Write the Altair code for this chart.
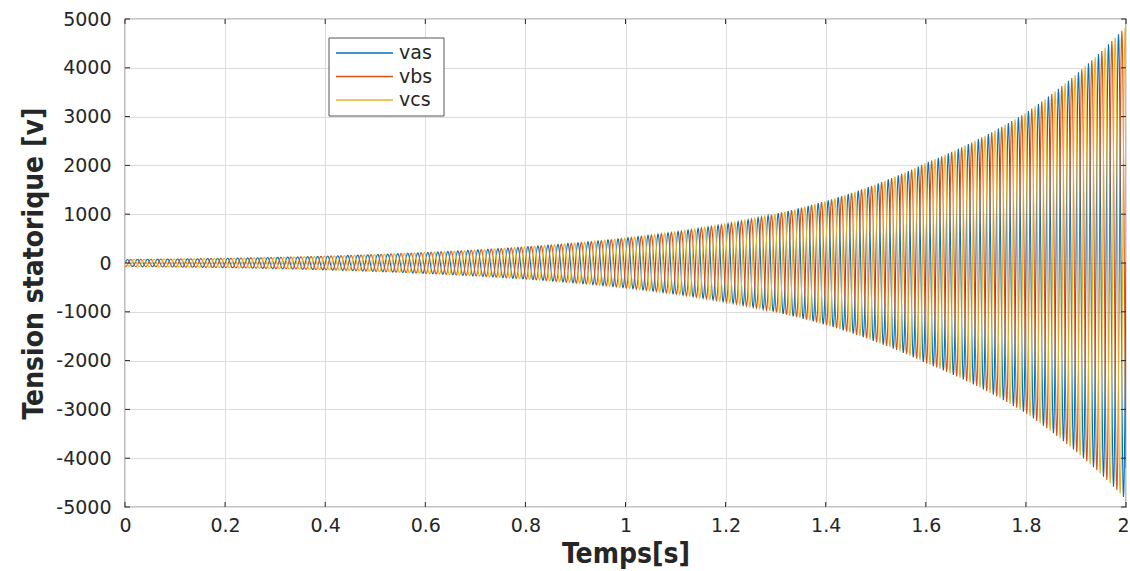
import numpy as np
import pandas as pd
import altair as alt

# Envelope (peak amplitude), in volts
env_t = [0.0, 0.2, 0.4, 0.6, 0.8, 1.0, 1.2, 1.4, 1.6, 1.8, 2.0]
env_amp = [70, 95, 140, 215, 330, 510, 800, 1270, 2050, 3080, 4850]
freq_hz = 50
series = ["vas", "vbs", "vcs"]
phase_deg = [0, -120, 120]
colors = ["#0072BD", "#D95319", "#EDB120"]

x_ticks = [0, 0.2, 0.4, 0.6, 0.8, 1, 1.2, 1.4, 1.6, 1.8, 2]
y_ticks = [-5000, -4000, -3000, -2000, -1000, 0, 1000, 2000, 3000, 4000, 5000]

t = np.linspace(0, 2, 2401)
amp = np.exp(np.interp(t, env_t, np.log(env_amp)))
frames = []
for i, (name, ph) in enumerate(zip(series, phase_deg)):
    v = amp * np.sin(2 * np.pi * freq_hz * t + np.deg2rad(ph))
    frames.append(pd.DataFrame({"t": t, "v": v, "serie": name, "ord": i}))
df = pd.concat(frames, ignore_index=True)

narrow = "Liberation Sans Narrow, DejaVu Sans Condensed, Liberation Sans, Arial"
tickfont = "DejaVu Sans"

xscale = alt.Scale(domain=[0, 2], nice=False, zero=False)
yscale = alt.Scale(domain=[-5000, 5000], nice=False, zero=False)
cscale = alt.Scale(domain=series, range=colors)

xaxis = alt.Axis(values=x_ticks, title="Temps[s]", grid=True,
                 labelExpr="'' + datum.value",
                 labelFont=tickfont, labelFontSize=19, labelColor="#262626",
                 labelPadding=9, tickSize=0, domain=False,
                 labelOffset={"expr": "datum.value == 2 ? -3 : 0"},
                 titleFont=narrow, titleFontSize=28, titleFontWeight="bold",
                 titleColor="#262626", titlePadding=5,
                 labelFlush=False)

lines = alt.Chart(df).mark_line(strokeWidth=1.1, clip=True).encode(
    x=alt.X("t:Q", scale=xscale, axis=xaxis),
    y=alt.Y("v:Q", scale=yscale,
            axis=alt.Axis(values=y_ticks, title="Tension statorique [v]", grid=True,
                          labelExpr="'' + datum.value",
                          labelFont=tickfont, labelFontSize=19, labelColor="#262626",
                          labelPadding=14, tickSize=0, domain=False,
                          titleFont=narrow, titleFontSize=28, titleFontWeight="bold",
                          titleColor="#262626", titlePadding=7, labelFlush=False)),
    color=alt.Color("serie:N", scale=cscale, legend=None),
    order=alt.Order("ord:Q"),
    detail="serie:N",
)

# inward tick marks on all four sides
xt = pd.DataFrame({"x": x_ticks})
yt = pd.DataFrame({"y": y_ticks})
tick_style = dict(color="#262626", strokeWidth=1)
xb = alt.Chart(xt).mark_rule(**tick_style).encode(
    x=alt.X("x:Q", scale=xscale, axis=xaxis), y=alt.value(488), y2=alt.value(483))
xtp = alt.Chart(xt).mark_rule(**tick_style).encode(
    x=alt.X("x:Q", scale=xscale, axis=xaxis), y=alt.value(0), y2=alt.value(5))
yl = alt.Chart(yt).mark_rule(**tick_style).encode(
    y=alt.Y("y:Q", scale=yscale, axis=None), x=alt.value(0), x2=alt.value(5))
yr = alt.Chart(yt).mark_rule(**tick_style).encode(
    y=alt.Y("y:Q", scale=yscale, axis=None), x=alt.value(1001), x2=alt.value(996))

# legend box (MATLAB style, inside the axes)
leg = pd.DataFrame({"serie": series})
leg_y = alt.Scale(type="point", domain=series, range=[34, 81], padding=0)
leg_box = alt.Chart(leg).transform_aggregate(n="count()").mark_rect(
    fill="white", stroke="#555555", strokeWidth=1
).encode(x=alt.value(204), x2=alt.value(319), y=alt.value(19), y2=alt.value(97))
leg_lines = alt.Chart(leg).mark_rule(strokeWidth=1.5).encode(
    y=alt.Y("serie:N", scale=leg_y, axis=None),
    x=alt.value(211), x2=alt.value(268),
    color=alt.Color("serie:N", scale=cscale, legend=None),
)
leg_text = alt.Chart(leg).mark_text(
    align="left", baseline="middle", font="DejaVu Sans", fontSize=19, color="#262626"
).encode(
    y=alt.Y("serie:N", scale=leg_y, axis=None),
    x=alt.value(274),
    text="serie:N",
)
legend = alt.layer(leg_box, leg_lines, leg_text)

chart = alt.layer(lines, xb, xtp, yl, yr, legend).resolve_scale(
    y="independent"
).properties(
    width=1001, height=488,
    padding={"left": 125, "top": 19, "right": 4, "bottom": 64},
    autosize=alt.AutoSizeParams(type="none"),
    background="white",
).configure_view(stroke="#262626", strokeWidth=1.2).configure_axis(
    gridColor="#dcdcdc", gridWidth=1
)

chart.save("out.html", embed_options={"renderer": "svg", "actions": False})
